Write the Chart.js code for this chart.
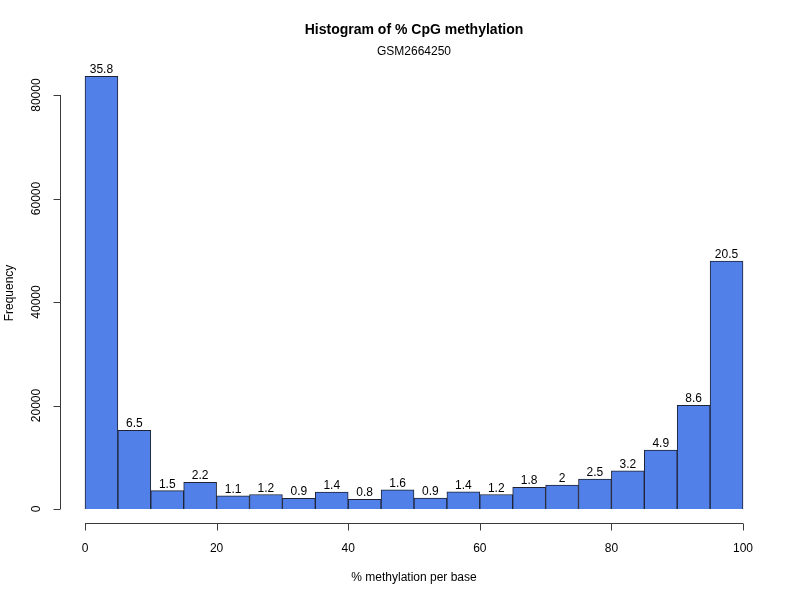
<!DOCTYPE html>
<html lang="en">
<head>
    <meta charset="UTF-8">
    <title>Histogram of % CpG methylation</title>
    <script src="https://cdn.jsdelivr.net/npm/chart.js"></script>
    <style>
        body { margin: 0; background: #fff; }
        #wrap { width: 800px; height: 600px; }
    </style>
</head>
<body>
    <div id="wrap"><canvas id="hist"></canvas></div>
    <script>
        // bin centres (5% wide bins), counts and the percent labels printed on top
        const binMids = [2.5, 7.5, 12.5, 17.5, 22.5, 27.5, 32.5, 37.5, 42.5, 47.5,
                         52.5, 57.5, 62.5, 67.5, 72.5, 77.5, 82.5, 87.5, 92.5, 97.5];
        const counts = [83600, 15200, 3550, 5150, 2550, 2800, 2050, 3250, 1850, 3700,
                        2100, 3300, 2800, 4200, 4600, 5800, 7400, 11400, 20050, 47900];
        const pctLabels = ['35.8', '6.5', '1.5', '2.2', '1.1', '1.2', '0.9', '1.4', '0.8', '1.6',
                           '0.9', '1.4', '1.2', '1.8', '2', '2.5', '3.2', '4.9', '8.6', '20.5'];
        const xTicks = [0, 20, 40, 60, 80, 100];
        const yTicks = [0, 20000, 40000, 60000, 80000];

        const FONT = 'Liberation Sans, Arial, Helvetica, sans-serif';
        const AXIS = '#3a3a3a';

        // R style detached axes, titles and bar labels
        const rPlot = {
            id: 'rPlot',
            afterDraw(chart) {
                const ctx = chart.ctx;
                const xs = chart.scales.x;
                const ys = chart.scales.y;
                ctx.save();

                // labels on top of bars
                ctx.fillStyle = '#000';
                ctx.font = '12px ' + FONT;
                ctx.textAlign = 'center';
                ctx.textBaseline = 'alphabetic';
                chart.getDatasetMeta(0).data.forEach((bar, i) => {
                    ctx.fillText(pctLabels[i], bar.x, bar.y - 3);
                });

                ctx.strokeStyle = AXIS;
                ctx.lineWidth = 1;

                // x axis
                const xa = 523.5;
                ctx.beginPath();
                ctx.moveTo(xs.getPixelForValue(xTicks[0]), xa);
                ctx.lineTo(xs.getPixelForValue(xTicks[xTicks.length - 1]), xa);
                xTicks.forEach(t => {
                    const px = Math.round(xs.getPixelForValue(t)) + 0.5;
                    ctx.moveTo(px, xa);
                    ctx.lineTo(px, xa + 7);
                });
                ctx.stroke();
                ctx.textBaseline = 'middle';
                xTicks.forEach(t => ctx.fillText(String(t), xs.getPixelForValue(t), 549));

                // y axis
                const ya = 60.5;
                ctx.beginPath();
                ctx.moveTo(ya, ys.getPixelForValue(yTicks[0]));
                ctx.lineTo(ya, ys.getPixelForValue(yTicks[yTicks.length - 1]));
                yTicks.forEach(t => {
                    const py = Math.round(ys.getPixelForValue(t)) + 0.5;
                    ctx.moveTo(ya, py);
                    ctx.lineTo(ya - 7, py);
                });
                ctx.stroke();
                yTicks.forEach(t => {
                    ctx.save();
                    ctx.translate(37, ys.getPixelForValue(t));
                    ctx.rotate(-Math.PI / 2);
                    ctx.fillText(String(t), 0, 0);
                    ctx.restore();
                });

                // axis titles
                ctx.fillText('% methylation per base', 414, 578);
                ctx.save();
                ctx.translate(10, 293);
                ctx.rotate(-Math.PI / 2);
                ctx.fillText('Frequency', 0, 0);
                ctx.restore();

                // main title + subtitle
                ctx.font = 'bold 14px ' + FONT;
                ctx.fillText('Histogram of % CpG methylation', 414, 30);
                ctx.font = '12px ' + FONT;
                ctx.fillText('GSM2664250', 414, 52);

                ctx.restore();
            }
        };

        new Chart(document.getElementById('hist'), {
            type: 'bar',
            data: {
                datasets: [{
                    data: binMids.map((m, i) => ({ x: m, y: counts[i] })),
                    backgroundColor: '#5080e8',
                    borderColor: '#1e2233',
                    borderWidth: 1,
                    barPercentage: 1,
                    categoryPercentage: 1,
                    clip: false
                }]
            },
            options: {
                responsive: true,
                maintainAspectRatio: false,
                animation: false,
                layout: { padding: { left: 85, right: 57, top: 64, bottom: 91 } },
                plugins: { legend: { display: false }, tooltip: { enabled: false } },
                scales: {
                    x: { type: 'linear', min: 0, max: 100, offset: false, display: false },
                    y: { min: 0, max: 86000, display: false }
                }
            },
            plugins: [rPlot]
        });
    </script>
</body>
</html>
